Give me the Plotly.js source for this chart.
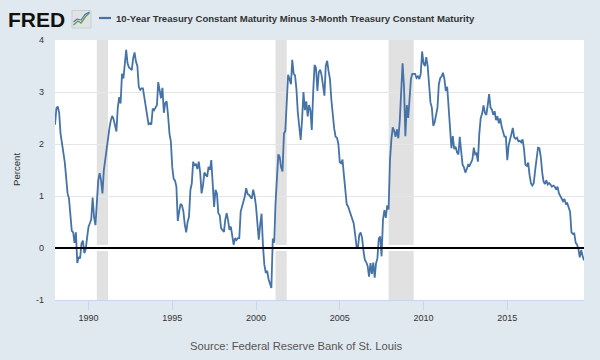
<!DOCTYPE html>
<html>
<head>
<meta charset="utf-8">
<script src="https://cdn.plot.ly/plotly-3.0.1.min.js"></script>
<style>html,body{margin:0;padding:0;background:#e1e9f0;}#chart{width:600px;height:360px;}</style>
</head>
<body>
<div id="chart"></div>
<script>
// Monthly values, Jan 1988 .. Aug 2019
const startYear = 1988;
const y1988 = [2.37, 2.69, 2.72, 2.6, 2.2, 2.02, 1.9, 1.65, 1.35, 1.05, 0.95, 0.6];
const y1989 = [0.33, 0.3, 0.1, 0.3, -0.29, -0.17, -0.2, 0.09, 0.14, -0.1, -0.02, 0.2];
const y1990 = [0.41, 0.48, 0.55, 0.97, 0.6, 0.44, 0.85, 1.3, 1.44, 1.3, 1.05, 1.5];
const y1991 = [1.7, 1.95, 2.15, 2.3, 2.45, 2.54, 2.48, 2.35, 2.24, 2.7, 2.9, 2.78];
const y1992 = [3.35, 3.26, 3.5, 3.81, 3.55, 3.47, 3.45, 3.42, 3.65, 3.76, 3.58, 3.5];
const y1993 = [3.1, 3.04, 3.07, 3.07, 2.9, 2.73, 2.62, 2.38, 2.4, 2.37, 2.68, 2.65];
const y1994 = [2.7, 2.75, 3.19, 3.04, 2.88, 3.08, 2.6, 2.79, 2.82, 2.55, 2.2, 2.05];
const y1995 = [1.55, 1.33, 1.3, 1.18, 0.52, 0.7, 0.85, 0.82, 0.7, 0.45, 0.3, 0.5];
const y1996 = [0.6, 1.12, 1.24, 1.66, 1.58, 1.62, 1.52, 1.66, 1.45, 1.05, 1.2, 1.45];
const y1997 = [1.4, 1.37, 1.56, 1.5, 1.69, 1.31, 0.79, 1.12, 1.05, 0.67, 0.63, 0.38];
const y1998 = [0.35, 0.31, 0.54, 0.67, 0.54, 0.35, 0.41, 0.22, 0.06, 0.19, 0.15, 0.19];
const y1999 = [0.19, 0.7, 0.79, 0.88, 0.99, 1.15, 1.04, 1.02, 0.98, 0.95, 1.12, 1.0];
const y2000 = [0.8, 0.5, 0.16, 0.45, 0.66, 0.04, -0.32, -0.48, -0.44, -0.6, -0.7, -0.77];
const y2001 = [0.18, 0.1, 0.85, 1.47, 1.8, 1.75, 1.55, 1.47, 2.2, 2.25, 2.95, 3.33];
const y2002 = [3.25, 3.15, 3.62, 3.35, 3.32, 3.05, 2.6, 2.3, 2.08, 2.46, 3.0, 2.65];
const y2003 = [2.82, 2.53, 2.75, 2.65, 2.27, 3.0, 3.52, 3.46, 3.02, 3.38, 3.43, 3.32];
const y2004 = [3.14, 2.93, 3.5, 3.6, 3.4, 3.25, 2.85, 2.52, 2.3, 2.14, 2.12, 2.0];
const y2005 = [1.65, 1.63, 1.7, 1.4, 1.15, 0.84, 0.8, 0.72, 0.62, 0.54, 0.47, 0.26];
const y2006 = [0.03, 0.0, 0.25, 0.3, 0.2, -0.05, -0.23, -0.27, -0.35, -0.55, -0.29, -0.5];
const y2007 = [-0.28, -0.57, -0.3, -0.2, 0.18, 0.22, -0.16, 0.55, 0.73, 0.58, 0.82, 0.74];
const y2008 = [1.7, 2.1, 2.32, 2.25, 2.14, 2.28, 2.11, 2.45, 3.05, 3.55, 3.1, 2.15];
const y2009 = [2.75, 2.5, 2.85, 3.25, 3.35, 3.35, 3.35, 3.27, 3.3, 3.25, 3.35, 3.78];
const y2010 = [3.55, 3.5, 3.67, 3.5, 3.17, 2.8, 2.7, 2.35, 2.42, 2.58, 2.7, 3.15];
const y2011 = [3.27, 3.3, 3.37, 3.25, 3.02, 3.1, 2.68, 2.3, 1.92, 2.15, 1.9, 1.95];
const y2012 = [1.84, 1.8, 2.14, 1.86, 1.6, 1.55, 1.45, 1.52, 1.6, 1.58, 1.63, 1.7];
const y2013 = [1.93, 1.8, 1.82, 1.66, 2.2, 2.5, 2.58, 2.74, 2.6, 2.56, 2.75, 2.96];
const y2014 = [2.7, 2.66, 2.56, 2.63, 2.46, 2.53, 2.4, 2.49, 2.33, 2.24, 2.14, 2.14];
const y2015 = [1.69, 1.98, 2.06, 2.19, 2.31, 2.13, 2.1, 2.12, 2.05, 2.06, 2.03, 2.09];
const y2016 = [1.9, 1.6, 1.58, 1.64, 1.4, 1.24, 1.2, 1.25, 1.5, 1.78, 1.93, 1.92];
const y2017 = [1.75, 1.45, 1.28, 1.23, 1.3, 1.22, 1.25, 1.22, 1.18, 1.2, 1.18, 1.12];
const y2018 = [1.18, 1.05, 1.0, 0.97, 0.9, 0.94, 0.85, 0.86, 0.79, 0.7, 0.3, 0.27];
const y2019 = [0.28, 0.1, 0.07, -0.02, -0.18, -0.04, -0.15, -0.24];

const yearly = [y1988, y1989, y1990, y1991, y1992, y1993, y1994, y1995, y1996, y1997,
  y1998, y1999, y2000, y2001, y2002, y2003, y2004, y2005, y2006, y2007, y2008, y2009,
  y2010, y2011, y2012, y2013, y2014, y2015, y2016, y2017, y2018, y2019];

// Recessions (peak month to trough month)
const recStarts = ['1990-07-01', '2001-03-01', '2007-12-01'];
const recEnds   = ['1991-03-01', '2001-11-01', '2009-06-01'];

const tickYears = ['1990', '1995', '2000', '2005', '2010', '2015'];
const yTicks = [-1, 0, 1, 2, 3, 4];

const seriesName = '10-Year Treasury Constant Maturity Minus 3-Month Treasury Constant Maturity';

const dates = [], values = [];
yearly.forEach((arr, k) => {
  arr.forEach((v, m) => {
    dates.push((startYear + k) + '-' + String(m + 1).padStart(2, '0') + '-01');
    values.push(v);
  });
});

// pixel -> paper helpers for decoration outside plot area
const L = 55, R = 16, T = 40, B = 60, W = 600, H = 360;
const pw = W - L - R, ph = H - T - B;
const px = x => (x - L) / pw;
const py = y => (H - B - y) / ph;

const font = 'Liberation Sans, Arial, sans-serif';

const shapes = [];
recStarts.forEach((s, i) => {
  shapes.push({type: 'rect', xref: 'x', yref: 'paper', x0: s, x1: recEnds[i], y0: 0, y1: 1,
    fillcolor: '#e1e1e1', line: {width: 0}, layer: 'between'});
});
// white halo then black zero line
shapes.push({type: 'line', xref: 'paper', yref: 'y', x0: 0, x1: 1, y0: 0, y1: 0,
  line: {color: '#ffffff', width: 6}, layer: 'between'});
shapes.push({type: 'line', xref: 'paper', yref: 'y', x0: 0, x1: 1, y0: 0, y1: 0,
  line: {color: '#000000', width: 2}, layer: 'above'});
// legend dash
shapes.push({type: 'line', xref: 'paper', yref: 'paper', x0: px(99), x1: px(111), y0: py(18), y1: py(18),
  line: {color: '#4572a7', width: 2.2}});
// FRED icon
shapes.push({type: 'rect', xref: 'paper', yref: 'paper', x0: px(72), x1: px(91), y0: py(28), y1: py(10.5),
  fillcolor: '#dfe3e6', line: {color: '#c9ced3', width: 1}});
shapes.push({type: 'path', xref: 'paper', yref: 'paper',
  path: 'M' + px(73.5) + ',' + py(25) + ' L' + px(78) + ',' + py(21) + ' L' + px(81) + ',' + py(23) + ' L' + px(86) + ',' + py(16) + ' L' + px(89.5) + ',' + py(13),
  line: {color: '#5b9e45', width: 1.3}});
shapes.push({type: 'path', xref: 'paper', yref: 'paper',
  path: 'M' + px(73.5) + ',' + py(22) + ' L' + px(77) + ',' + py(19) + ' L' + px(81) + ',' + py(20) + ' L' + px(85) + ',' + py(14.5) + ' L' + px(89.5) + ',' + py(12),
  line: {color: '#4572a7', width: 1.1}});

const annotations = [
  {xref: 'paper', yref: 'paper', x: px(6), y: py(19.5), xanchor: 'left', yanchor: 'middle', showarrow: false,
   text: 'FRED', font: {family: font, size: 21, color: '#111111', weight: 900}},
  {xref: 'paper', yref: 'paper', x: px(114), y: py(18), xanchor: 'left', yanchor: 'middle', showarrow: false,
   text: seriesName, font: {family: font, size: 9.6, color: '#333333', weight: 700}},
  {xref: 'paper', yref: 'paper', x: px(16), y: 0.5, xanchor: 'center', yanchor: 'middle', showarrow: false,
   textangle: -90, text: 'Percent', font: {family: font, size: 9.6, color: '#333333'}},
  {xref: 'paper', yref: 'paper', x: px(296), y: py(346), xanchor: 'center', yanchor: 'middle', showarrow: false,
   text: 'Source: Federal Reserve Bank of St. Louis', font: {family: font, size: 11.2, color: '#555555'}}
];

const trace = {
  x: dates, y: values, type: 'scatter', mode: 'lines', name: seriesName,
  line: {color: '#4572a7', width: 1.8}, hoverinfo: 'x+y'
};

const layout = {
  width: W, height: H,
  margin: {l: L, r: R, t: T, b: B, pad: 0},
  paper_bgcolor: '#e1e9f0', plot_bgcolor: '#ffffff',
  showlegend: false,
  font: {family: font, size: 9, color: '#333333'},
  xaxis: {
    type: 'date', range: [dates[0], dates[dates.length - 1]],
    tickvals: tickYears.map(y => y + '-01-01'), ticktext: tickYears,
    ticks: 'outside', ticklen: 9, tickcolor: '#ccd6eb', tickwidth: 1,
    showline: true, linecolor: '#ccd6eb', linewidth: 1,
    showgrid: false, zeroline: false,
    tickfont: {family: font, size: 9, color: '#333333'}
  },
  yaxis: {
    range: [-1, 4], tickvals: yTicks, ticktext: yTicks.map(String),
    showgrid: true, gridcolor: '#e6e6e6', gridwidth: 1,
    zeroline: false, showline: false, ticks: '',
    ticklabelstandoff: 10,
    tickfont: {family: font, size: 9, color: '#333333'}
  },
  shapes: shapes,
  annotations: annotations
};

Plotly.newPlot('chart', [trace], layout, {displayModeBar: false, staticPlot: true});
</script>
</body>
</html>
